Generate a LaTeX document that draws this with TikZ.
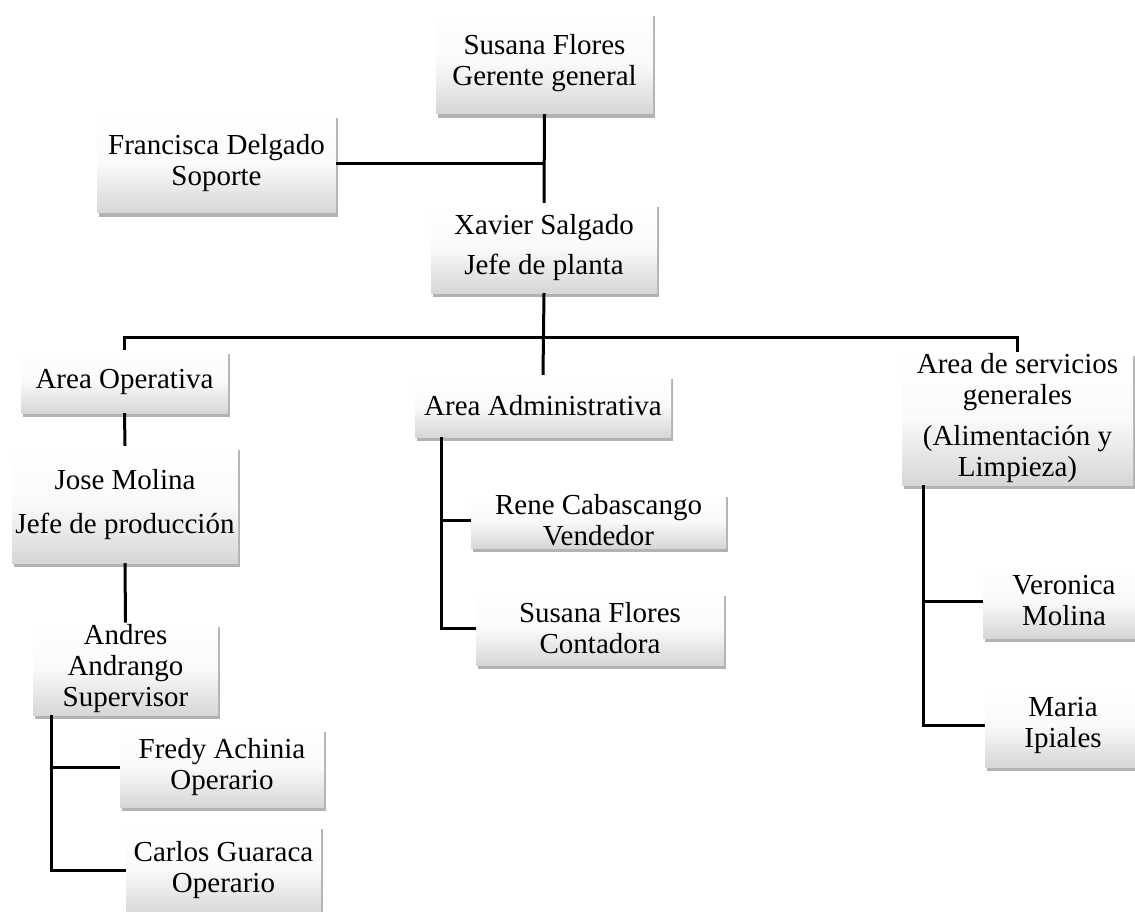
\documentclass[tikz,border=0pt]{standalone}
\usepackage{fontspec}
\setmainfont{Liberation Serif}
\usetikzlibrary{shadows}

\begin{document}
\begin{tikzpicture}[x=1pt,y=1pt,
              caja/.style={drop shadow={shadow xshift=1.5pt, shadow yshift=-4pt, opacity=0.5, fill=black!60},
                top color=white, bottom color=black!16, middle color=black!2,
                align=center, inner sep=2pt, font=\fontsize{29}{31}\selectfont},
              linea/.style={line width=3pt}]
              \useasboundingbox (0,0) rectangle (1135,-912);

              \node[caja, minimum width=217pt, minimum height=102pt] (GG) at (544.5,-63) {Susana Flores\\Gerente general};
              \node[caja, minimum width=239pt, minimum height=99pt] (SO) at (216.5,-163.5) {Francisca Delgado\\Soporte};
              \node[caja, minimum width=226pt, minimum height=90pt] (JP) at (544,-248) {Xavier Salgado\\[9pt]Jefe de planta};

              \node[caja, minimum width=207pt, minimum height=63pt] (AO) at (124.5,-381.5) {Area Operativa};
              \node[caja, minimum width=256pt, minimum height=62pt] (AD) at (543,-406) {Area Administrativa};
              \node[caja, minimum width=231pt, minimum height=133pt] (SG) at (1017.5,-418.5) {Area de servicios\\generales\\[10pt](Alimentación y\\Limpieza)};

              \node[caja, minimum width=226pt, minimum height=117pt] (JM) at (125,-504.5) {Jose Molina\\[13pt]Jefe de producción};
              \node[caja, minimum width=185pt, minimum height=86pt] (SU) at (125.5,-669) {Andres\\Andrango\\Supervisor};
              \node[caja, minimum width=204pt, minimum height=79pt] (O1) at (222,-767.5) {Fredy Achinia\\Operario};
              \node[caja, minimum width=195pt, minimum height=90pt] (O2) at (223.5,-870) {Carlos Guaraca\\Operario};

              \node[caja, minimum width=255pt, minimum height=55pt] (VE) at (598.5,-520.5) {Rene Cabascango\\Vendedor};
              \node[caja, minimum width=248pt, minimum height=73pt] (CO) at (600,-628.5) {Susana Flores\\Contadora};

              \node[caja, minimum width=162pt, minimum height=74pt] (L1) at (1064,-601) {Veronica\\Molina};
              \node[caja, minimum width=156pt, minimum height=84pt] (L2) at (1063,-725) {Maria\\Ipiales};

              \coordinate (BUS) at (544,-337);
              \draw[linea] (GG.south) -- (JP.north);
              \draw[linea] (SO.east) -- (SO.east -| GG.south);
              \draw[linea] (JP.south) -- (AD.north);
              \draw[linea] (AO.north) |- (BUS) -| (SG.north);

              \draw[linea] (AO.south) -- (JM.north);
              \draw[linea] (JM.south) -- (SU.north);
              \draw[linea] ([xshift=19pt]SU.south west) |- (O1.west);
              \draw[linea] ([xshift=19pt]SU.south west) |- (O2.west);

              \draw[linea] ([xshift=27pt]AD.south west) |- (VE.west);
              \draw[linea] ([xshift=27pt]AD.south west) |- (CO.west);

              \draw[linea] ([xshift=22pt]SG.south west) |- (L1.west);
              \draw[linea] ([xshift=22pt]SG.south west) |- (L2.west);
            \end{tikzpicture}
\end{document}
